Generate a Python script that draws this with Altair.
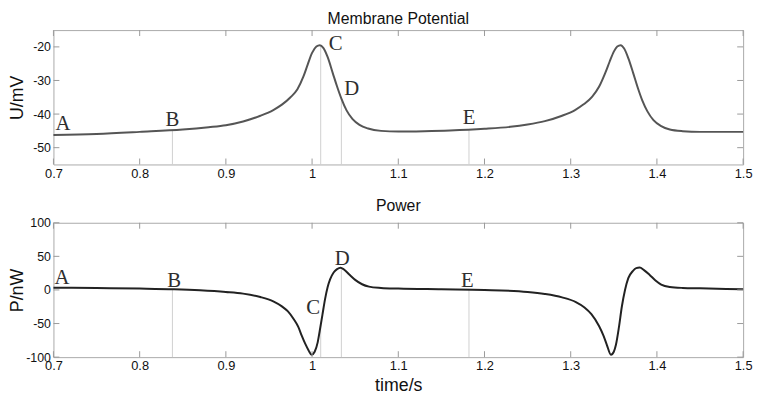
import altair as alt
import pandas as pd

# ---- data ----
u_t = [0.70, 0.75, 0.80, 0.85, 0.88, 0.90, 0.92, 0.94, 0.955, 0.965, 0.975, 0.983, 0.990, 0.995,
       1.000, 1.005, 1.009, 1.013, 1.018, 1.024, 1.029, 1.034, 1.040, 1.047, 1.055, 1.065, 1.080,
       1.10, 1.13, 1.16, 1.20, 1.23, 1.25, 1.27, 1.29, 1.305, 1.315, 1.325, 1.333, 1.340, 1.345,
       1.350, 1.354, 1.358, 1.362, 1.367, 1.3725, 1.378, 1.383, 1.389, 1.396, 1.405, 1.415, 1.43,
       1.45, 1.50]
u_v = [-46.2, -45.9, -45.3, -44.6, -43.9, -43.3, -42.2, -40.5, -38.8, -37.2, -35.0, -32.6, -28.8, -25.2,
       -21.8, -19.9, -19.5, -20.3, -23.0, -27.8, -31.8, -35.4, -38.9, -41.5, -43.2, -44.3, -45.0,
       -45.2, -45.1, -44.9, -44.4, -43.8, -43.1, -42.1, -40.5, -38.8, -37.1, -34.8, -31.8, -27.8, -24.5,
       -21.4, -19.9, -19.5, -20.5, -23.5, -27.8, -32.3, -35.9, -39.2, -41.8, -43.6, -44.6, -45.1,
       -45.3, -45.3]

p_t = [0.70, 0.75, 0.80, 0.84, 0.87, 0.90, 0.92, 0.94, 0.955, 0.965, 0.972, 0.979, 0.984, 0.988,
       0.992, 0.996, 0.9995, 1.003, 1.0065, 1.009, 1.012, 1.015, 1.018, 1.021, 1.025, 1.029, 1.033,
       1.037, 1.0435, 1.050, 1.058, 1.066, 1.08, 1.10, 1.15, 1.20, 1.25, 1.27, 1.29, 1.306, 1.316,
       1.324, 1.333, 1.338, 1.342, 1.3467, 1.350, 1.3524, 1.356, 1.3593, 1.363, 1.3668, 1.372, 1.376,
       1.380, 1.385, 1.3916, 1.398, 1.405, 1.415, 1.43, 1.45, 1.50]
p_v = [3.3, 2.8, 2.0, 1.0, -0.5, -3.0, -5.5, -10.5, -17, -24.5, -32, -44, -55, -68,
       -80, -90, -96.5, -92, -78, -60, -37, -14, 4, 16, 26, 31, 33,
       30.5, 22.5, 15, 8.5, 5, 3, 2, 1, 0, -3, -6, -11, -18, -26,
       -36, -54, -68, -82, -96.5, -92, -82, -55, -25, 0, 17.6, 28, 32.5,
       33.3, 29.5, 22.4, 14.5, 8.1, 4.5, 3.0, 2.4, 1.0]

marker_t = [0.838, 1.010, 1.034, 1.182]
marker_u = [-44.7, -19.5, -35.4, -44.6]
marker_p = [1.0, -50.0, 33.0, 0.3]

label_names = ["A", "B", "C", "D", "E"]
u_label_t = [0.711, 0.838, 1.0275, 1.046, 1.182]
u_label_v = [-43.0, -41.9, -19.3, -32.7, -41.3]
p_label_t = [0.710, 0.840, 1.0013, 1.035, 1.180]
p_label_v = [17.1, 13.6, -27.1, 45.7, 12.9]

x_ticks = [0.7, 0.8, 0.9, 1.0, 1.1, 1.2, 1.3, 1.4, 1.5]
u_ticks = [-50, -40, -30, -20]
p_ticks = [-100, -50, 0, 50, 100]

W, H = 698, 136
SANS = "Liberation Sans"
SERIF = "Liberation Serif"
TICK = 6


def panel(ct, cv, mk_t, mk_v, lt, lv, yticks, ydomain, ytitle, title, color, xtitle):
    xaxis_kw = dict(values=x_ticks, ticks=False, domain=False, grid=False, labelFlush=False,
                    labelFontSize=13, labelFont=SANS, labelColor="#111", labelPadding=3,
                    labelExpr="'' + datum.value")
    if xtitle:
        xaxis = alt.Axis(title=xtitle, titleFontSize=18, titleFont=SANS, titleFontWeight="normal",
                         titleColor="#111", titlePadding=4, **xaxis_kw)
    else:
        xaxis = alt.Axis(title=None, **xaxis_kw)
    x = alt.X("t:Q", scale=alt.Scale(domain=[0.7, 1.5], nice=False, zero=False), axis=xaxis)
    y = alt.Y("v:Q", scale=alt.Scale(domain=ydomain, nice=False, zero=False),
              axis=alt.Axis(values=yticks, ticks=False, domain=False, grid=False,
                            labelFontSize=12.5, labelFont=SANS, labelColor="#111", labelPadding=3,
                            labelExpr="'' + datum.value",
                            title=ytitle, titleFontSize=18, titleFont=SANS,
                            titleFontWeight="normal", titleColor="#111",
                            titleX=-27, titleY=H / 2))

    curve = pd.DataFrame({"t": ct, "v": cv})
    marks = pd.DataFrame({"t": mk_t, "v": mk_v})
    labels = pd.DataFrame({"t": lt, "v": lv, "name": label_names})
    xt = pd.DataFrame({"t": x_ticks})
    yt = pd.DataFrame({"v": yticks})

    rules = alt.Chart(marks).mark_rule(color="#cfcfcf", strokeWidth=1).encode(
        x=x, y=y, y2=alt.value(H))
    line = alt.Chart(curve).mark_line(color=color, strokeWidth=2, interpolate="monotone").encode(x=x, y=y)
    text = alt.Chart(labels).mark_text(font=SERIF, fontSize=21, color="#2e2e2e",
                                       align="center", baseline="middle").encode(
        x=x, y=y, text="name:N")
    xb = alt.Chart(xt).mark_rule(color="#999", strokeWidth=1).encode(
        x=x, y=alt.value(H), y2=alt.value(H - TICK))
    xtop = alt.Chart(xt).mark_rule(color="#999", strokeWidth=1).encode(
        x=x, y=alt.value(0), y2=alt.value(TICK))
    yl = alt.Chart(yt).mark_rule(color="#999", strokeWidth=1).encode(
        y=y, x=alt.value(0), x2=alt.value(TICK))
    yr = alt.Chart(yt).mark_rule(color="#999", strokeWidth=1).encode(
        y=y, x=alt.value(W - TICK), x2=alt.value(W))

    return alt.layer(rules, line, text, xb, xtop, yl, yr).properties(
        width=W, height=H,
        title=alt.TitleParams(title, fontSize=16, font=SANS, fontWeight="normal",
                              color="#111", anchor="middle", offset=3))


top = panel(u_t, u_v, marker_t, marker_u, u_label_t, u_label_v, u_ticks, [-55, -15],
            "U/mV", "Membrane Potential", "#555555", None)
bottom = panel(p_t, p_v, marker_t, marker_p, p_label_t, p_label_v, p_ticks, [-100, 100],
               "P/nW", "Power", "#222222", "time/s")

chart = alt.vconcat(top, bottom, spacing=16).properties(
    padding=0, background="white"
).configure_view(stroke="#aaaaaa", strokeWidth=1)

chart.save("out.html", embed_options={"renderer": "svg", "actions": False})
